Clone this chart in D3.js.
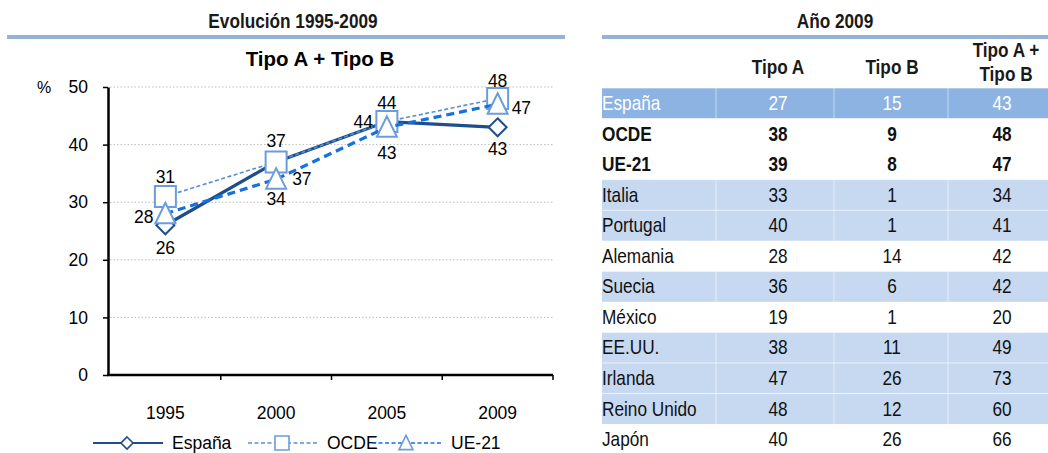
<!DOCTYPE html>
<html>
<head>
<meta charset="utf-8">
<script src="https://cdn.jsdelivr.net/npm/d3@7"></script>
<style>
  html, body { margin: 0; padding: 0; background: #fff; }
  svg { display: block; }
  svg text { font-family: "Liberation Sans", Arial, sans-serif; }
</style>
</head>
<body>
<div id="chart"></div>
<script>
// --- chart data (left panel) ---
const years = ['1995', '2000', '2005', '2009']
const espana = [26, 37, 44, 43]
const ocde = [31, 37, 44, 48]
const ue21 = [28, 34, 43, 47]
const yTicks = [0, 10, 20, 30, 40, 50]

// --- table data (right panel, año 2009) ---
const countries = ['España', 'OCDE', 'UE-21', 'Italia', 'Portugal', 'Alemania', 'Suecia', 'México', 'EE.UU.', 'Irlanda', 'Reino Unido', 'Japón']
const tipoA = [27, 38, 39, 33, 40, 28, 36, 19, 38, 47, 48, 40]
const tipoB = [15, 9, 8, 1, 1, 14, 6, 1, 11, 26, 12, 26]
const tipoAB = [43, 48, 47, 34, 41, 42, 42, 20, 49, 73, 60, 66]

// row look: 'dark' highlight, 'light' band, 'bold' plain bold row, '' plain
const rowLook = ['dark', 'bold', 'bold', 'light', 'light', '', 'light', '', 'light', 'light', 'light', '']

const W = 1048
const H = 453
const NARROW = 0.82 // squeeze Liberation Sans to look like Arial Narrow

const svg = d3.select('#chart')
  .append('svg')
  .attr('width', W)
  .attr('height', H)

// place a condensed text at (x, y)
const narrow = (sel, x, y) => sel
  .attr('x', 0)
  .attr('y', 0)
  .attr('transform', `translate(${x},${y}) scale(${NARROW},1)`)

// section headers + rules
svg.append('text')
  .call(narrow, 293, 28)
  .attr('text-anchor', 'middle')
  .style('font-size', '21px')
  .style('font-weight', 'bold')
  .attr('fill', '#1a1a1a')
  .text('Evolución 1995-2009')

svg.append('text')
  .call(narrow, 835, 28)
  .attr('text-anchor', 'middle')
  .style('font-size', '21px')
  .style('font-weight', 'bold')
  .attr('fill', '#1a1a1a')
  .text('Año 2009')

svg.append('rect').attr('x', 7).attr('y', 35).attr('width', 558).attr('height', 4).attr('fill', '#95B3D7')
svg.append('rect').attr('x', 602).attr('y', 35).attr('width', W - 602).attr('height', 4).attr('fill', '#95B3D7')

// ---------------- line chart ----------------
const x = d3.scaleBand().domain(years).range([110, 553])
const y = d3.scaleLinear().domain([0, 50]).range([375, 87])
const cx = d => x(d) + x.bandwidth() / 2

const plot = svg.append('g')

plot.append('text')
  .attr('x', 320)
  .attr('y', 66)
  .attr('text-anchor', 'middle')
  .style('font-size', '20.5px')
  .style('font-weight', 'bold')
  .text('Tipo A + Tipo B')

plot.append('text')
  .attr('x', 44)
  .attr('y', 93)
  .attr('text-anchor', 'middle')
  .style('font-size', '16px')
  .text('%')

// gridlines
plot.append('g')
  .selectAll('line')
  .data(yTicks.filter(d => d > 0))
  .join('line')
  .attr('x1', 110)
  .attr('x2', 553)
  .attr('y1', d => y(d))
  .attr('y2', d => y(d))
  .attr('stroke', '#BDBDBD')
  .attr('stroke-width', 1)
  .attr('stroke-dasharray', '1.5,2')

// y axis
const yAxis = plot.append('g')
  .attr('transform', 'translate(108,0)')
  .call(d3.axisLeft(y).tickValues(yTicks).tickSize(5).tickPadding(15).tickSizeOuter(0))
yAxis.select('.domain').attr('stroke', '#000').attr('stroke-width', 2.5)
yAxis.selectAll('.tick line').attr('stroke', '#000').attr('stroke-width', 1.5)
yAxis.selectAll('.tick text')
  .attr('fill', '#000')
  .style('font-size', '17.5px')
  .style('font-family', '"Liberation Sans", Arial, sans-serif')

// x axis (labels from axis, ticks at category boundaries)
const xAxis = plot.append('g')
  .attr('transform', 'translate(0,375)')
  .call(d3.axisBottom(x).tickSize(0).tickPadding(32).tickSizeOuter(0))
xAxis.select('.domain').remove()
xAxis.selectAll('.tick text')
  .attr('fill', '#000')
  .style('font-size', '17.5px')
  .style('font-family', '"Liberation Sans", Arial, sans-serif')

plot.append('line')
  .attr('x1', 107).attr('x2', 553)
  .attr('y1', 375).attr('y2', 375)
  .attr('stroke', '#000').attr('stroke-width', 2.5)

plot.append('g')
  .selectAll('line')
  .data(years.slice(1).map(d => x(d)).concat([x.range()[1]]))
  .join('line')
  .attr('x1', d => d).attr('x2', d => d)
  .attr('y1', 375).attr('y2', 380)
  .attr('stroke', '#000').attr('stroke-width', 1.5)

// marker shapes
const diamond = s => `M0,${-s}L${s},0L0,${s}L${-s},0Z`
const square = s => `M${-s},${-s}H${s}V${s}H${-s}Z`
const triangle = s => `M0,${-s * 1.1}L${s},${s * 0.95}H${-s}Z`

const series = [
  { name: 'España', values: espana, line: '#1F4E8C', width: 3.2, dash: null, mark: '#1F4E8C', shape: diamond, size: 9 },
  { name: 'OCDE', values: ocde, line: '#558ED5', width: 1.6, dash: '4,2.5', mark: '#6C9CDC', shape: square, size: 10.5 },
  { name: 'UE-21', values: ue21, line: '#1570E0', width: 3.2, dash: '8,5', mark: '#6C9CDC', shape: triangle, size: 10 }
]

// label offsets per point: [dx, dy, anchor]
const labelPos = {
  'España': [[0, 29, 'middle'], [16, 23, 'start'], [-14, 6, 'end'], [0, 28, 'middle']],
  'OCDE': [[0, -13, 'middle'], [0, -15, 'middle'], [0, -13, 'middle'], [0, -12, 'middle']],
  'UE-21': [[-12, 9, 'end'], [0, 26, 'middle'], [0, 32, 'middle'], [14, 10, 'start']]
}

const lineGen = d3.line()
  .x((d, i) => cx(years[i]))
  .y(d => y(d))

series.forEach(s => {
  const g = plot.append('g')
  g.append('path')
    .datum(s.values)
    .attr('d', lineGen)
    .attr('fill', 'none')
    .attr('stroke', s.line)
    .attr('stroke-width', s.width)
    .attr('stroke-dasharray', s.dash)
  g.selectAll('path.mark')
    .data(s.values)
    .join('path')
    .attr('class', 'mark')
    .attr('d', s.shape(s.size))
    .attr('transform', (d, i) => `translate(${cx(years[i])},${y(d)})`)
    .attr('fill', '#fff')
    .attr('stroke', s.mark)
    .attr('stroke-width', 2)
})

// data labels on top
series.forEach(s => {
  plot.append('g')
    .selectAll('text')
    .data(s.values)
    .join('text')
    .attr('x', (d, i) => cx(years[i]) + labelPos[s.name][i][0])
    .attr('y', (d, i) => y(d) + labelPos[s.name][i][1])
    .attr('text-anchor', (d, i) => labelPos[s.name][i][2])
    .style('font-size', '17.5px')
    .attr('fill', '#000')
    .text(d => d)
})

// legend
const legend = plot.append('g').attr('transform', 'translate(0,443)')
const legendX = [93, 248, 372]
series.forEach((s, i) => {
  const lx = legendX[i]
  legend.append('line')
    .attr('x1', lx).attr('x2', lx + 70)
    .attr('stroke', s.line)
    .attr('stroke-width', i === 0 ? 2 : 1.5)
    .attr('stroke-dasharray', i === 0 ? null : '4,2.5')
  legend.append('path')
    .attr('d', s.shape(i === 0 ? 6 : 7))
    .attr('transform', `translate(${lx + 34},0)`)
    .attr('fill', '#fff')
    .attr('stroke', s.mark)
    .attr('stroke-width', 1.6)
  legend.append('text')
    .attr('x', lx + 79)
    .attr('y', 6)
    .style('font-size', '17.5px')
    .text(s.name)
})

// ---------------- table ----------------
const table = svg.append('g')
const colX = [778, 892, 1002]
const rowTop = 88
const rowH = 30.55

const head = table.append('g').style('font-size', '21px').style('font-weight', 'bold').attr('fill', '#1a1a1a')
head.append('text').call(narrow, colX[0], 74).attr('text-anchor', 'middle').text('Tipo A')
head.append('text').call(narrow, colX[1], 74).attr('text-anchor', 'middle').text('Tipo B')
head.append('text').call(narrow, colX[2] + 4, 57).attr('text-anchor', 'middle').text('Tipo A +')
head.append('text').call(narrow, colX[2] + 4, 81).attr('text-anchor', 'middle').text('Tipo B')

const rows = table.selectAll('g.row')
  .data(countries.map((c, i) => ({ c, a: tipoA[i], b: tipoB[i], ab: tipoAB[i], look: rowLook[i] })))
  .join('g')
  .attr('class', 'row')
  .attr('transform', (d, i) => `translate(0,${rowTop + i * rowH})`)

rows.filter(d => d.look === 'dark' || d.look === 'light')
  .append('rect')
  .attr('x', 602)
  .attr('width', W - 602)
  .attr('height', rowH)
  .attr('fill', d => d.look === 'dark' ? '#8DB3E2' : '#C6D9F1')

rows.filter(d => d.look === 'dark' || d.look === 'light')
  .selectAll('line.sep')
  .data([716, 834, 948])
  .join('line')
  .attr('class', 'sep')
  .attr('x1', d => d).attr('x2', d => d)
  .attr('y1', 0).attr('y2', rowH)
  .attr('stroke', '#fff')
  .attr('stroke-opacity', 0.5)

rows.append('line')
  .attr('x1', 602).attr('x2', W)
  .attr('y1', 0).attr('y2', 0)
  .attr('stroke', '#fff')
  .attr('stroke-opacity', d => d.look === '' ? 0 : 0.6)

const cellText = rows.append('g')
  .attr('fill', d => d.look === 'dark' ? '#fff' : '#111')
  .style('font-weight', d => d.look === 'bold' ? 'bold' : 'normal')
  .style('font-size', '21px')

cellText.append('text').call(narrow, 602, 22).text(d => d.c)
cellText.append('text').call(narrow, colX[0], 22).attr('text-anchor', 'middle').text(d => d.a)
cellText.append('text').call(narrow, colX[1], 22).attr('text-anchor', 'middle').text(d => d.b)
cellText.append('text').call(narrow, colX[2], 22).attr('text-anchor', 'middle').text(d => d.ab)
</script>
</body>
</html>
